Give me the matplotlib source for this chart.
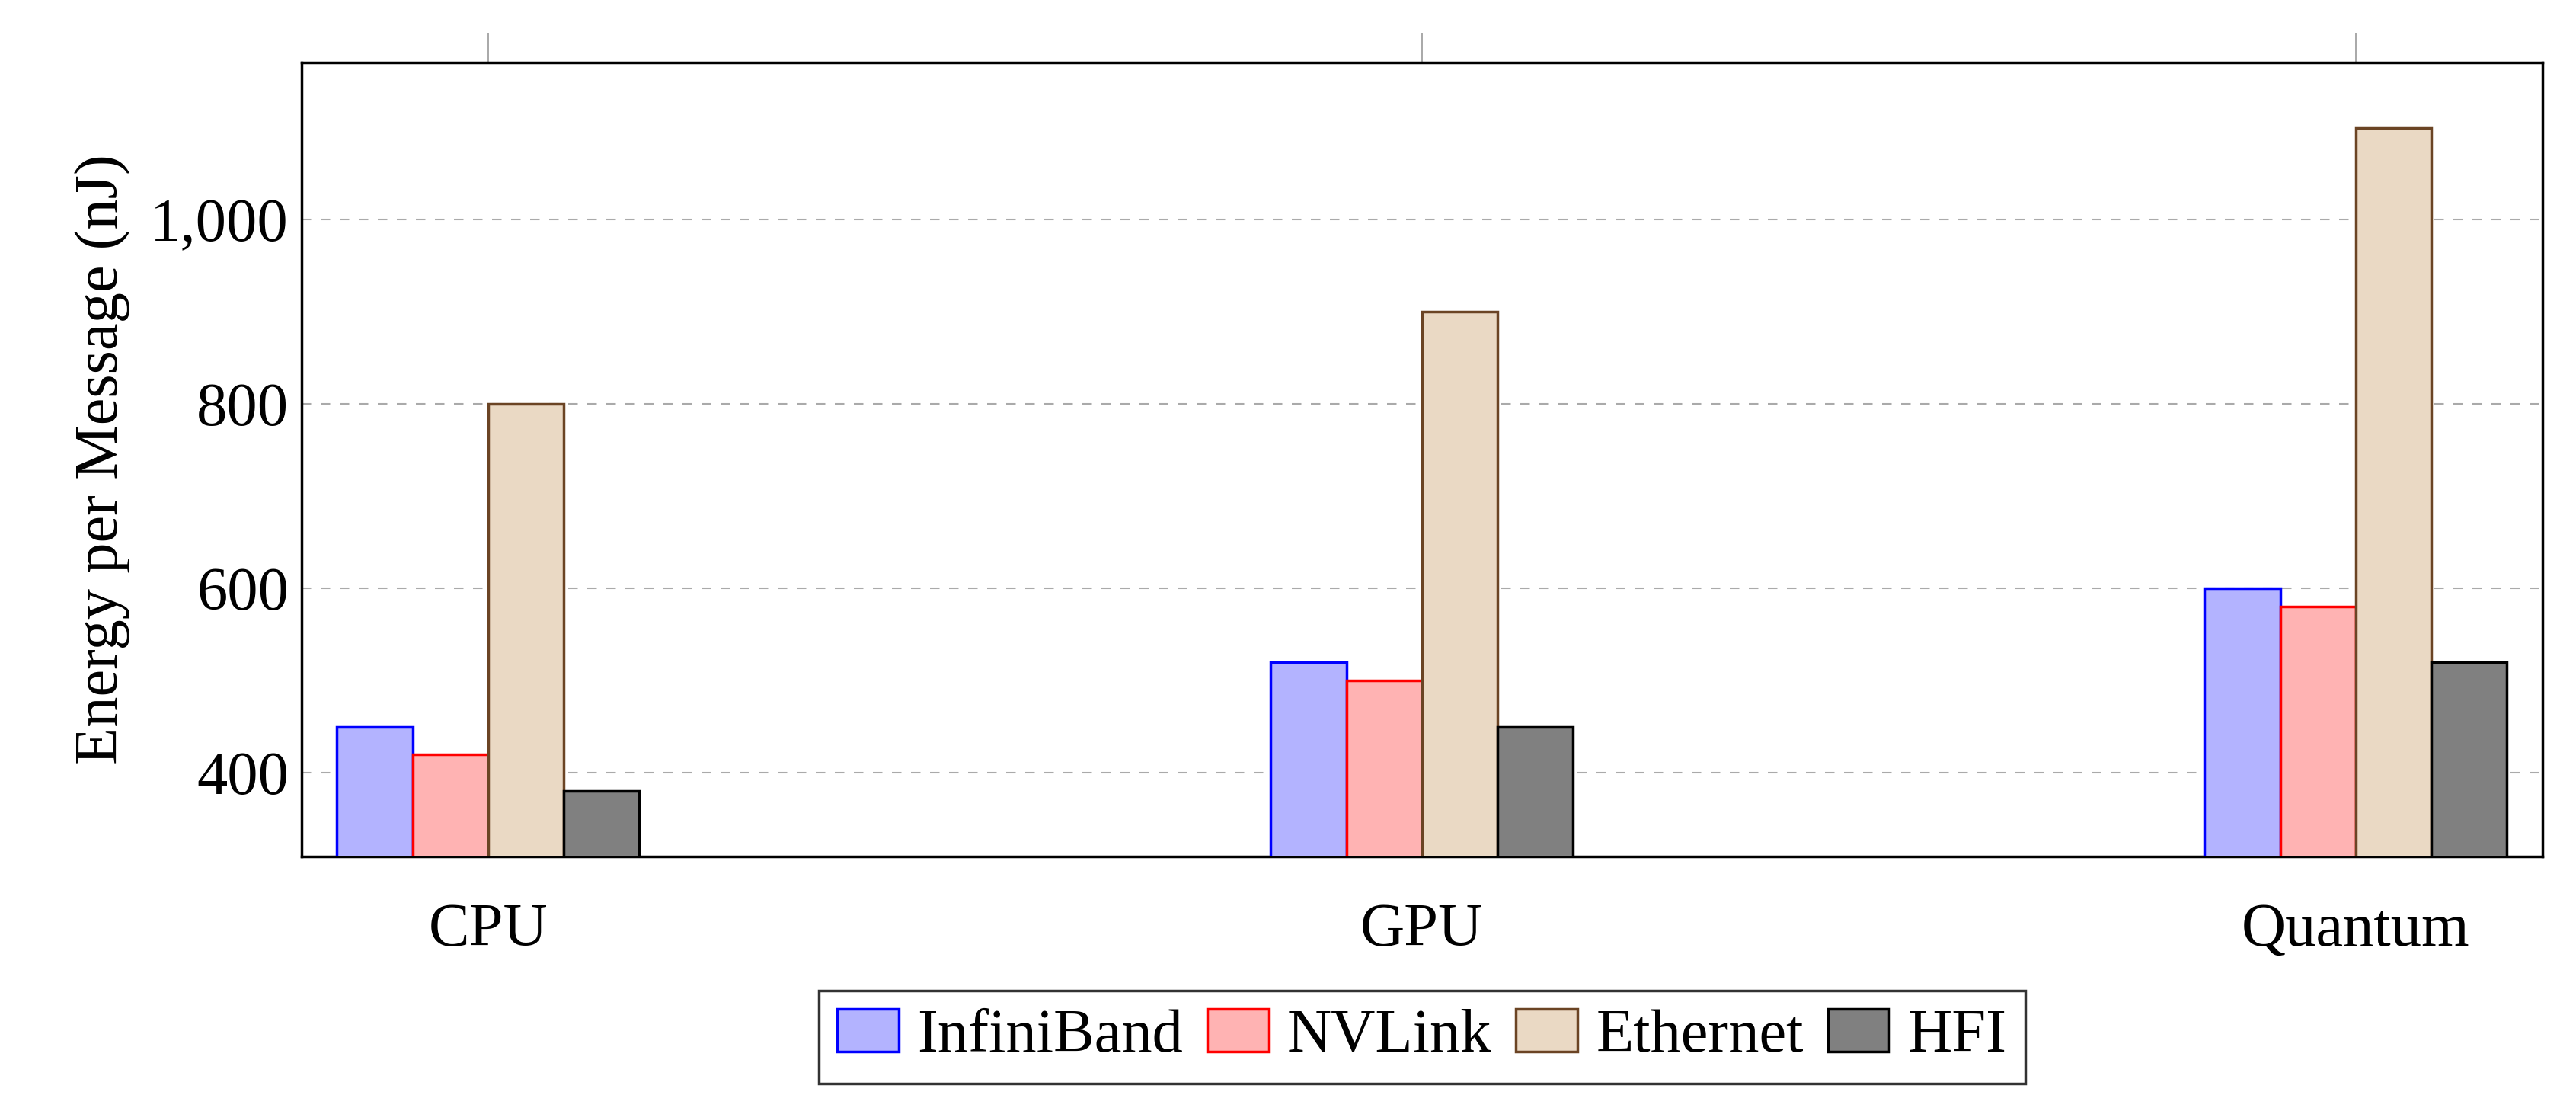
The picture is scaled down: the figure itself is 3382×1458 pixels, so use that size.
import matplotlib
matplotlib.use("Agg")
import matplotlib.pyplot as plt
import numpy as np

categories = ["CPU", "GPU", "Quantum"]
series = ["InfiniBand", "NVLink", "Ethernet", "HFI"]
infiniband = [450, 520, 600]
nvlink = [420, 500, 580]
ethernet = [800, 900, 1100]
hfi = [380, 450, 520]
values = [infiniband, nvlink, ethernet, hfi]
faces = ["#b3b3ff", "#ffb3b3", "#ead9c4", "#808080"]
edges = ["#0000ff", "#ff0000", "#6b4424", "#000000"]

plt.rcParams['font.family'] = ['Liberation Serif', 'DejaVu Serif']
fig = plt.figure(figsize=(33.82, 14.58), dpi=100)
ax = fig.add_axes([0.117, 0.229, 0.870, 0.715])
x = np.arange(len(categories))
w = 0.081
offs = [-1.5, -0.5, 0.5, 1.5]
for i in range(4):
    ax.bar(x + offs[i]*w, values[i], w, bottom=0, color=faces[i], edgecolor=edges[i],
           linewidth=2.5, label=series[i], zorder=3)
ax.set_xlim(-0.2, 2.2)
ax.set_ylim(309, 1171)
ax.set_yticks([400, 600, 800, 1000])
ax.set_yticklabels(["400", "600", "800", "1,000"])
ax.set_xticks(x)
ax.set_xticklabels(categories)
ax.tick_params(axis='both', labelsize=58)
ax.tick_params(axis='x', direction='out', length=28, width=1.2, color='#999999',
               pad=16, top=True, bottom=False)
ax.tick_params(axis='y', length=0, pad=12)
ax.grid(axis='y', linestyle=(0, (6, 6)), color='#aaaaaa', linewidth=1.5, zorder=0)
for s in ax.spines.values():
    s.set_linewidth(2.5)
ax.set_ylabel("Energy per Message (nJ)", fontsize=58, labelpad=18)
leg = ax.legend(loc='upper center', bbox_to_anchor=(0.5, -0.13), ncol=4, fontsize=58,
                frameon=True, fancybox=False, edgecolor='black', handlelength=1.0,
                handletextpad=0.3, columnspacing=0.4, borderpad=0.3)
leg.get_frame().set_linewidth(2.5)
fig.savefig("out.png", dpi=100)
